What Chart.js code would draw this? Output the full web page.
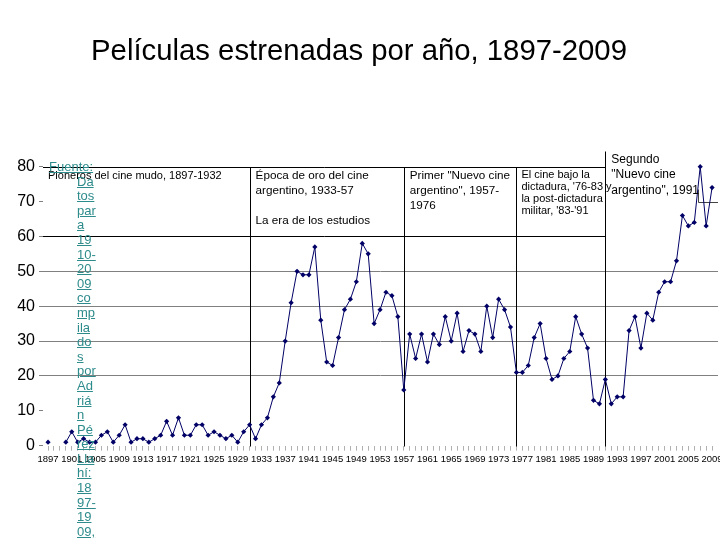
<!DOCTYPE html>
<html>
<head>
<meta charset="utf-8">
<script src="https://cdn.jsdelivr.net/npm/chart.js@4.4.1/dist/chart.umd.min.js"></script>
<style>
html,body{margin:0;padding:0;background:#fff;}
#wrap{position:relative;width:720px;height:540px;overflow:hidden;background:#fff;}
#c{position:absolute;left:0;top:0;}
#src{position:absolute;left:49px;top:160px;font:13px "Liberation Sans",Arial,sans-serif;line-height:14.6px;color:#2e8b8b;}
#src span{text-decoration:underline;}
#src .col{margin-left:28px;}
</style>
</head>
<body>
<div id="wrap">
<canvas id="c" width="720" height="540"></canvas>
<div id="src"></div>
</div>
<script>
// ---- data ----
const years = [1897,1898,1899,1900,1901,1902,1903,1904,1905,1906,1907,1908,1909,1910,1911,1912,1913,1914,1915,1916,
1917,1918,1919,1920,1921,1922,1923,1924,1925,1926,1927,1928,1929,1930,1931,1932,1933,1934,1935,1936,
1937,1938,1939,1940,1941,1942,1943,1944,1945,1946,1947,1948,1949,1950,1951,1952,1953,1954,1955,1956,
1957,1958,1959,1960,1961,1962,1963,1964,1965,1966,1967,1968,1969,1970,1971,1972,1973,1974,1975,1976,
1977,1978,1979,1980,1981,1982,1983,1984,1985,1986,1987,1988,1989,1990,1991,1992,1993,1994,1995,1996,
1997,1998,1999,2000,2001,2002,2003,2004,2005,2006,2007,2008,2009];
const films = [1,null,null,1,4,1,2,1,1,3,4,1,3,6,1,2,2,1,2,3,
7,3,8,3,3,6,6,3,4,3,2,3,1,4,6,2,6,8,14,18,
30,41,50,49,49,57,36,24,23,31,39,42,47,58,55,35,39,44,43,37,
16,32,25,32,24,32,29,37,30,38,27,33,32,27,40,31,42,39,34,21,
21,23,31,35,25,19,20,25,27,37,32,28,13,12,19,12,14,14,33,37,
28,38,36,44,47,47,53,66,63,64,80,63,74];
const tickLabels = ['1897','1901','1905','1909','1913','1917','1921','1925','1929','1933','1937','1941','1945',
'1949','1953','1957','1961','1965','1969','1973','1977','1981','1985','1989','1993','1997','2001','2005','2009'];
const yTicks = [0,10,20,30,40,50,60,70,80];
const titleText = 'Películas estrenadas por año, 1897-2009';
const eraBounds = [1931, 1957, 1976, 1991];
const eraTexts = [
  ['Pioneros del cine mudo, 1897-1932'],
  ['Época de oro del cine','argentino, 1933-57','','La era de los estudios'],
  ['Primer "Nuevo cine','argentino", 1957-','1976'],
  ['El cine bajo la','dictadura, \'76-83 y','la post-dictadura','militar, \'83-\'91'],
  ['Segundo','"Nuevo cine','argentino", 1991']
];
const sourceLines = ['Fuente:','Da','tos','par','a','19','10-','20','09','co','mp','ila','do','s','por','Ad','riá','n','Pé','rez','Lla','hí:','18','97-','19','09,','ví'];

// source text (real text overlay)
(function(){
  const el = document.getElementById('src');
  let h = '<span>'+sourceLines[0]+'</span><div class="col">';
  h += sourceLines.slice(1).map(s=>'<span>'+s+'</span>').join('<br>');
  h += '</div>';
  el.innerHTML = h;
})();

const FONT = '"Liberation Sans", Arial, sans-serif';

const eraPlugin = {
  id: 'eras',
  beforeDatasetsDraw(chart) {
    const {ctx, chartArea: a, scales: {x, y}} = chart;
    const px = v => Math.round(x.getPixelForValue(v)) + 0.5;
    const py = v => Math.round(y.getPixelForValue(v)) + 0.5;
    const ln = (x1,y1,x2,y2) => { ctx.beginPath(); ctx.moveTo(x1,y1); ctx.lineTo(x2,y2); ctx.stroke(); };
    ctx.save();
    ctx.strokeStyle = '#000';
    ctx.lineWidth = 1;
    const yTop = py(80), yBot = py(60), y0 = py(0);
    const xEnd = px(eraBounds[3]);
    ln(a.left, yTop, xEnd, yTop);
    ln(a.left, yBot, xEnd, yBot);
    for (let i = 0; i < 3; i++) ln(px(eraBounds[i]), yTop, px(eraBounds[i]), y0);
    ln(xEnd, py(84.5), xEnd, y0);
    ctx.strokeStyle = '#444';
    ln(px(2006.6), py(70), a.right, py(70));
    ln(px(2006.6), py(73.5), px(2006.6), py(70));
    ctx.restore();
  },
  afterDatasetsDraw(chart) {
    const {ctx, chartArea: a, scales: {x, y}} = chart;
    ctx.save();
    ctx.fillStyle = '#000';
    ctx.textBaseline = 'middle';
    ctx.textAlign = 'left';
    const yTop = y.getPixelForValue(80);
    const specs = [
      {x0: a.left + 5, size: 11, lh: 15, dy: 9},
      {x0: x.getPixelForValue(eraBounds[0]) + 6, size: 11.7, lh: 15, dy: 9},
      {x0: x.getPixelForValue(eraBounds[1]) + 6, size: 11.7, lh: 15, dy: 9},
      {x0: x.getPixelForValue(eraBounds[2]) + 5, size: 11, lh: 12, dy: 8},
      {x0: x.getPixelForValue(eraBounds[3]) + 6, size: 12, lh: 15.5, dy: -7}
    ];
    eraTexts.forEach((lines, i) => {
      const s = specs[i];
      ctx.font = s.size + 'px ' + FONT;
      lines.forEach((t, j) => ctx.fillText(t, s.x0, yTop + s.dy + j * s.lh));
    });
    ctx.restore();
  }
};

new Chart(document.getElementById('c'), {
  type: 'line',
  data: {
    datasets: [{
      data: years.map((yr, i) => ({x: yr, y: films[i]})),
      borderColor: '#000066',
      backgroundColor: '#000066',
      borderWidth: 1,
      pointStyle: 'rectRot',
      pointRadius: 2.6,
      pointHoverRadius: 2.6,
      pointBorderWidth: 0,
      spanGaps: false,
      tension: 0,
      clip: false
    }]
  },
  options: {
    responsive: false,
    animation: false,
    layout: {autoPadding: false, padding: {left: 0, right: 2, top: 0, bottom: 72.3}},
    plugins: {
      legend: {display: false},
      tooltip: {enabled: false},
      title: {
        display: true,
        text: titleText,
        color: '#000',
        font: {family: FONT, size: 29.3, weight: 'normal'},
        padding: {top: 34, bottom: 97.5}
      }
    },
    scales: {
      x: {
        type: 'linear',
        min: 1896.15,
        max: 2010,
        afterBuildTicks: ax => { ax.ticks = years.map(v => ({value: v})); },
        afterFit: ax => { ax.height = 22; ax.paddingLeft = 0; ax.paddingRight = 0; },
        border: {display: false},
        grid: {drawOnChartArea: false, drawTicks: true, tickLength: 5, color: '#b0b0b0', tickColor: '#b0b0b0'},
        ticks: {
          autoSkip: false, maxRotation: 0, minRotation: 0, padding: 3,
          color: '#000', font: {family: FONT, size: 9.5},
          callback: v => tickLabels.includes(String(v)) ? String(v) : ''
        }
      },
      y: {
        min: 0, max: 80,
        afterBuildTicks: ax => { ax.ticks = yTicks.map(v => ({value: v})); },
        afterFit: ax => { ax.width = 43; },
        border: {display: false},
        grid: {
          drawTicks: true, tickLength: 4, tickColor: '#808080',
          color: c => [20,30,40,50].includes(c.tick && c.tick.value) ? '#808080' : 'rgba(0,0,0,0)'
        },
        ticks: {color: '#000', padding: 4, font: {family: FONT, size: 16}}
      }
    }
  },
  plugins: [eraPlugin]
});
</script>
</body>
</html>
